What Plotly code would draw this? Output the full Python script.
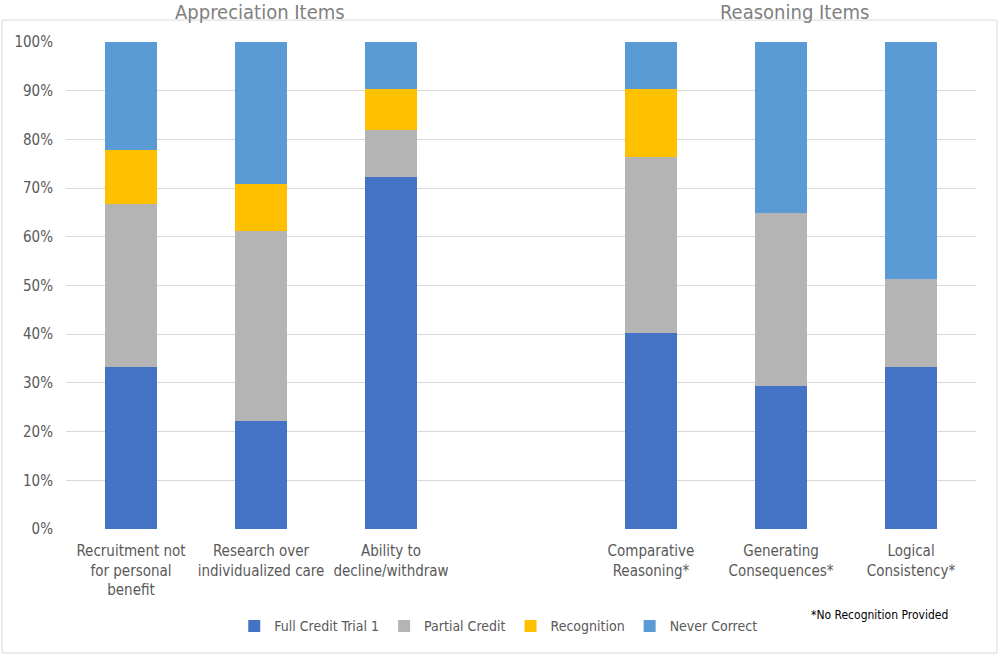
import plotly.graph_objects as go

categories = ["Recruitment not<br>for personal<br>benefit",
              "Research over<br>individualized care",
              "Ability to<br>decline/withdraw",
              " ",
              "Comparative<br>Reasoning*",
              "Generating<br>Consequences*",
              "Logical<br>Consistency*"]
series_names = ["Full Credit Trial 1", "Partial Credit", "Recognition", "Never Correct"]
full_credit = [33.3, 22.2, 72.2, None, 40.3, 29.4, 33.3]
partial_credit = [33.4, 38.9, 9.7, None, 36.1, 35.4, 18.0]
recognition = [11.1, 9.8, 8.4, None, 13.9, 0, 0]
never_correct = [22.2, 29.1, 9.7, None, 9.7, 35.2, 48.7]
colors = ["#4472C4", "#B4B4B4", "#FFC000", "#5B9BD5"]

FONT = "Liberation Sans Narrow, DejaVu Sans Condensed, Arial Narrow, sans-serif"

fig = go.Figure()
for name, vals, col in zip(series_names, [full_credit, partial_credit, recognition, never_correct], colors):
    fig.add_trace(go.Bar(name=name, x=categories, y=vals, marker=dict(color=col, line=dict(width=0)),
                         width=0.4))

fig.update_layout(
    barmode="stack",
    width=999, height=656,
    margin=dict(l=66, r=23, t=42, b=127),
    paper_bgcolor="white", plot_bgcolor="white",
    font=dict(family=FONT, size=15, color="#595959"),
    showlegend=True,
    legend=dict(orientation="h", x=0.475, xanchor="center", y=-0.2, yanchor="middle",
                font=dict(size=14, color="#595959"), traceorder="normal",
                itemwidth=30),
    xaxis=dict(type="category", categoryorder="array", categoryarray=categories,
               showgrid=False, showline=False, ticks="", ticklabelstandoff=11,
               tickfont=dict(size=15, color="#595959")),
    yaxis=dict(range=[0, 100], dtick=10, ticksuffix="%", showgrid=True, gridcolor="#D9D9D9",
               gridwidth=1, zeroline=False, showline=False, ticks="", ticklabelstandoff=12,
               tickfont=dict(size=15, color="#595959")),
    shapes=[dict(type="rect", xref="paper", yref="paper", x0=-0.0703, x1=1.023, y0=-0.2546, y1=1.045,
                 line=dict(color="#D9D9D9", width=1), fillcolor="rgba(0,0,0,0)", layer="below")],
    annotations=[
        dict(text="Appreciation Items", xref="paper", yref="paper", x=0.213, y=1.0616,
             xanchor="center", yanchor="middle", showarrow=False,
             font=dict(family=FONT, size=20, color="#808080")),
        dict(text="Reasoning Items", xref="paper", yref="paper", x=0.801, y=1.0616,
             xanchor="center", yanchor="middle", showarrow=False,
             font=dict(family=FONT, size=20, color="#808080")),
        dict(text="*No Recognition Provided", xref="paper", yref="paper", x=0.971, y=-0.177,
             xanchor="right", yanchor="middle", showarrow=False,
             font=dict(family=FONT, size=12, color="#000000")),
    ],
)

fig.write_html("out.html", config={"displayModeBar": False},
               post_script="document.body.style.margin='0';")
